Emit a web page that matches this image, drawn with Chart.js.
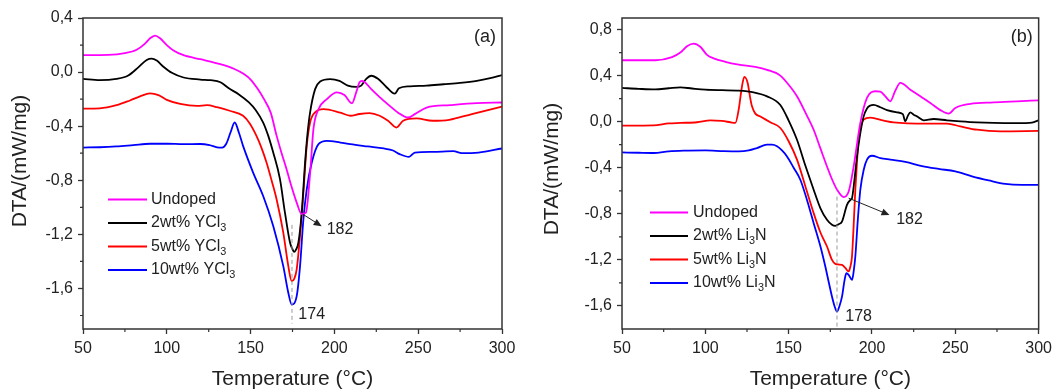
<!DOCTYPE html>
<html>
<head>
<meta charset="utf-8">
<title>DTA curves</title>
<script src="https://cdn.jsdelivr.net/npm/chart.js@4.4.1/dist/chart.umd.min.js"></script>
<style>
  body { margin: 0; background: #fff; }
  #wrap { position: relative; width: 1057px; height: 392px; }
  canvas { position: absolute; top: 0; }
</style>
</head>
<body>
<div id="wrap">
  <canvas id="chartA" width="527" height="392" style="left:0"></canvas>
  <canvas id="chartB" width="530" height="392" style="left:527px"></canvas>
</div>
<script>
// ---- data ----
const xTicks = [50, 100, 150, 200, 250, 300];
const yTicksA = [0.4, 0, -0.4, -0.8, -1.2, -1.6];
const yTicksB = [0.8, 0.4, 0, -0.4, -0.8, -1.2, -1.6];

const labelsA = ['Undoped', '2wt% YCl₃', '5wt% YCl₃', '10wt% YCl₃'];
const labelsB = ['Undoped', '2wt% Li₃N', '5wt% Li₃N', '10wt% Li₃N'];

// panel (a) - YCl3
const tempA_undoped = [50,65,75,82,87,90,93,96,100,104,110,120,130,140,146,150,154,158,162,165.5,168.5,171.5,174.5,177.5,180.5,183,185.5,187.5,190.5,195.5,201.5,206,210.5,213,215,216.5,219,222,227,233,238,244,248,255,269,285,300];
const dtaA_undoped = [0.125,0.127,0.14,0.165,0.21,0.25,0.27,0.25,0.2,0.16,0.125,0.095,0.065,0.025,-0.015,-0.055,-0.12,-0.2,-0.3,-0.47,-0.6,-0.72,-0.85,-0.965,-1.05,-1.04,-0.75,-0.42,-0.275,-0.2,-0.15,-0.17,-0.23,-0.15,-0.075,-0.065,-0.085,-0.126,-0.185,-0.25,-0.3,-0.336,-0.311,-0.262,-0.244,-0.23,-0.225];

const tempA_2wt = [50,60,70,77,83,88,91,94,98,103,110,120,126,132,137,143,149,153,157.5,160.5,163.5,167.5,170.5,173.5,175,176,177,178.5,180.5,182.5,184,185.5,188.5,191.5,197.5,203,208,213,216,219,222,226,231,236,238.5,245,255,265,275,285,293,300];
const dtaA_2wt = [-0.05,-0.06,-0.05,-0.025,0.035,0.09,0.1,0.085,0.04,-0.005,-0.04,-0.055,-0.06,-0.075,-0.12,-0.165,-0.224,-0.28,-0.373,-0.47,-0.595,-0.79,-1.04,-1.26,-1.31,-1.33,-1.315,-1.262,-1.04,-0.67,-0.45,-0.298,-0.126,-0.07,-0.052,-0.065,-0.1,-0.11,-0.1,-0.05,-0.027,-0.05,-0.11,-0.16,-0.12,-0.105,-0.1,-0.09,-0.08,-0.065,-0.045,-0.022];

const tempA_5wt = [50,60,70,78,84,90,95,100,108,118,124,130,137.5,145.5,149.5,153.5,156.5,159.5,162.5,165.5,169.5,172.5,174.5,176,177.5,179.5,181.5,183.5,185.5,188.5,193.5,203.5,209.5,215,221,227,232,237,241,249,258.5,268.5,282,300];
const dtaA_5wt = [-0.27,-0.268,-0.245,-0.21,-0.18,-0.158,-0.17,-0.205,-0.235,-0.25,-0.245,-0.26,-0.286,-0.323,-0.38,-0.472,-0.56,-0.669,-0.8,-0.94,-1.187,-1.435,-1.546,-1.53,-1.459,-1.212,-0.891,-0.546,-0.373,-0.298,-0.274,-0.3,-0.323,-0.31,-0.304,-0.323,-0.36,-0.41,-0.36,-0.343,-0.36,-0.353,-0.31,-0.255];

const tempA_10wt = [50,60,70,80,90,100,110,120,125.5,130,133,135.5,138,140.5,143,145.5,151.5,157.5,163.5,169.5,172.5,174.5,177.5,179.5,181.5,183.5,186.5,190.5,195.5,203.5,209.5,220,229.5,235,239,244.5,248,258.5,271,276,286,300];
const dtaA_10wt = [-0.558,-0.556,-0.55,-0.54,-0.53,-0.53,-0.533,-0.532,-0.54,-0.556,-0.558,-0.53,-0.447,-0.373,-0.447,-0.546,-0.743,-0.916,-1.138,-1.435,-1.632,-1.719,-1.657,-1.435,-1.089,-0.867,-0.669,-0.533,-0.509,-0.521,-0.533,-0.55,-0.565,-0.58,-0.607,-0.627,-0.595,-0.59,-0.585,-0.6,-0.595,-0.565];

// panel (b) - Li3N
const tempB_undoped = [50,70,80,85,89,93,97,101,105,112,120,130,137,145,150,155,160,165,169,173,176,179,183,186,189,193,197,202,205,208,211,214,217,223,229,235,241,246,250,259,273,287,300];
const dtaB_undoped = [0.533,0.533,0.56,0.6,0.655,0.678,0.65,0.58,0.55,0.52,0.496,0.475,0.45,0.4,0.32,0.22,0.08,-0.07,-0.23,-0.389,-0.5,-0.59,-0.655,-0.606,-0.389,-0.011,0.206,0.264,0.26,0.22,0.177,0.27,0.336,0.278,0.22,0.162,0.1,0.07,0.119,0.155,0.168,0.177,0.185];

const tempB_2wt = [50,60,70,78,85,92,100,110,119,129,137,145,150,155,160,165,169,173,176,178,180,182,185,187,188,189.5,191,193,195,197,199,201,205,209,215,218.5,220,221.5,223,225,227,231,237,245,253,263,273,287,296,300];
const dtaB_2wt = [0.293,0.285,0.28,0.29,0.298,0.288,0.278,0.273,0.27,0.255,0.22,0.145,0.01,-0.157,-0.38,-0.591,-0.75,-0.852,-0.895,-0.904,-0.89,-0.867,-0.722,-0.68,-0.664,-0.5,-0.302,-0.1,0.046,0.115,0.14,0.145,0.125,0.1,0.081,0.065,0.003,0.05,0.081,0.06,0.046,0.012,0.023,0.012,0.003,-0.006,-0.011,-0.013,-0.008,0.012];

const tempB_5wt = [50,69,78,85,95,103,110,115,118,120,122,123.4,125.4,127,128,130,133,139,145,150,155,160,165,169,173,176,178,180,182,184,186,187,188,189,190,191,192,195,199,207,213,233,245,253,263,277,300];
const dtaB_5wt = [-0.035,-0.032,-0.015,-0.011,-0.005,0.012,0.006,-0.005,-0.011,0.104,0.307,0.389,0.336,0.2,0.133,0.07,0.045,-0.005,-0.055,-0.17,-0.33,-0.56,-0.794,-0.96,-1.084,-1.2,-1.235,-1.24,-1.243,-1.27,-1.3,-1.26,-1.171,-0.9,-0.591,-0.35,-0.157,0.017,0.035,0.01,-0.006,-0.017,-0.017,-0.041,-0.07,-0.084,-0.08];

const tempB_10wt = [50,60,69,78,87,100,111,120,126,131,137,140,143,146,149,153,157,161,165,169,172,174,176,177.5,179,180.5,182,183.5,184.6,186,188,189,190,191.5,193,195,197,200,205,211,220,230,240,250,260,270,280,290,300];
const dtaB_10wt = [-0.267,-0.27,-0.272,-0.258,-0.252,-0.25,-0.256,-0.258,-0.25,-0.229,-0.2,-0.2,-0.214,-0.25,-0.302,-0.4,-0.504,-0.68,-0.881,-1.08,-1.258,-1.39,-1.519,-1.6,-1.649,-1.6,-1.519,-1.38,-1.316,-1.33,-1.374,-1.3,-1.171,-0.85,-0.591,-0.42,-0.33,-0.296,-0.316,-0.33,-0.35,-0.385,-0.41,-0.432,-0.475,-0.51,-0.54,-0.548,-0.548];

const lineColors = ['#ff00ff', '#000000', '#ff0000', '#0000ff'];
const family = '"Liberation Sans", Arial, sans-serif';

function toPoints(xs, ys) {
  return xs.map((x, i) => ({ x: x, y: ys[i] }));
}

// midpoints between major ticks (plus one step outside if still in range)
function minorTicks(ticks, min, max) {
  const sorted = ticks.slice().sort((a, b) => a - b);
  const half = (sorted[1] - sorted[0]) / 2;
  const out = [];
  for (let v = sorted[0] - half; v < sorted[sorted.length - 1] + half * 1.5; v += half * 2) {
    if (v > min + 1e-6 && v < max - 1e-6) out.push(v);
  }
  return out;
}

function drawLabel(ctx, text, x, y, size) {
  // "₃" is drawn as a lowered small 3
  const parts = text.split('₃');
  let cx = x;
  parts.forEach((p, i) => {
    if (i > 0) {
      ctx.font = (size * 0.68) + 'px ' + family;
      ctx.fillText('3', cx, y + size * 0.33);
      cx += ctx.measureText('3').width;
    }
    ctx.font = size + 'px ' + family;
    ctx.fillText(p, cx, y);
    cx += ctx.measureText(p).width;
  });
}

function extrasFor(cfg) {
  return {
    id: 'extras',
    afterDraw(chart) {
      const { ctx, chartArea: a } = chart;
      const sx = chart.scales.x, sy = chart.scales.y;
      const px = v => sx.getPixelForValue(v);
      const py = v => sy.getPixelForValue(v);
      ctx.save();

      // frame
      ctx.strokeStyle = '#333';
      ctx.lineWidth = 1.5;
      ctx.strokeRect(a.left, a.top, a.right - a.left, a.bottom - a.top);

      // minor ticks
      ctx.lineWidth = 1.2;
      ctx.beginPath();
      minorTicks(xTicks, sx.min, sx.max).forEach(v => {
        ctx.moveTo(px(v), a.bottom); ctx.lineTo(px(v), a.bottom + 3);
      });
      minorTicks(cfg.yTicks, sy.min, sy.max).forEach(v => {
        ctx.moveTo(a.left, py(v)); ctx.lineTo(a.left - 3, py(v));
      });
      ctx.stroke();

      // y title, placed a little above the middle like in the source figure
      ctx.save();
      ctx.translate(cfg.yTitleX, cfg.yTitleY);
      ctx.rotate(-Math.PI / 2);
      ctx.fillStyle = '#222';
      ctx.font = '21px ' + family;
      ctx.textAlign = 'center';
      ctx.textBaseline = 'middle';
      ctx.fillText('DTA/(mW/mg)', 0, 0);
      ctx.restore();

      // dashed guide at the peak
      ctx.strokeStyle = '#9a9a9a';
      ctx.lineWidth = 1;
      ctx.setLineDash([4, 3]);
      ctx.beginPath();
      ctx.moveTo(px(cfg.guideX), py(cfg.guideFrom));
      ctx.lineTo(px(cfg.guideX), py(cfg.guideTo));
      ctx.stroke();
      ctx.setLineDash([]);

      // arrow to the undoped peak label
      const x1 = px(cfg.arrowFrom[0]), y1 = py(cfg.arrowFrom[1]);
      const x2 = px(cfg.arrowTo[0]), y2 = py(cfg.arrowTo[1]);
      const ang = Math.atan2(y2 - y1, x2 - x1);
      ctx.strokeStyle = '#222';
      ctx.fillStyle = '#222';
      ctx.beginPath();
      ctx.moveTo(x1, y1); ctx.lineTo(x2 - 6 * Math.cos(ang), y2 - 6 * Math.sin(ang));
      ctx.stroke();
      ctx.beginPath();
      ctx.moveTo(x2, y2);
      ctx.lineTo(x2 - 8 * Math.cos(ang) + 3.5 * Math.sin(ang), y2 - 8 * Math.sin(ang) - 3.5 * Math.cos(ang));
      ctx.lineTo(x2 - 8 * Math.cos(ang) - 3.5 * Math.sin(ang), y2 - 8 * Math.sin(ang) + 3.5 * Math.cos(ang));
      ctx.closePath();
      ctx.fill();

      // text notes
      ctx.textBaseline = 'middle';
      ctx.textAlign = 'left';
      ctx.font = '16px ' + family;
      ctx.fillText(cfg.guideText, px(cfg.guideTextAt[0]), py(cfg.guideTextAt[1]));
      ctx.fillText(cfg.arrowText, px(cfg.arrowTextAt[0]), py(cfg.arrowTextAt[1]));
      ctx.textAlign = 'right';
      ctx.font = '18px ' + family;
      ctx.fillText(cfg.tag, a.right - 6, a.top + 19);

      // legend
      ctx.textAlign = 'left';
      chart.data.datasets.forEach((ds, i) => {
        const y = cfg.legendTop + i * cfg.legendStep;
        ctx.strokeStyle = ds.borderColor;
        ctx.lineWidth = 1.8;
        ctx.beginPath();
        ctx.moveTo(cfg.legendX[0], y); ctx.lineTo(cfg.legendX[1], y);
        ctx.stroke();
        ctx.fillStyle = '#222';
        drawLabel(ctx, ds.label, cfg.legendX[2], y, 16);
      });
      ctx.restore();
    }
  };
}

function makePanel(id, series, labels, cfg) {
  return new Chart(document.getElementById(id), {
    type: 'line',
    data: {
      datasets: series.map((s, i) => ({
        label: labels[i],
        data: toPoints(s[0], s[1]),
        borderColor: lineColors[i],
        borderWidth: 1.8,
        pointRadius: 0,
        fill: false,
        cubicInterpolationMode: 'monotone'
      }))
    },
    options: {
      responsive: false,
      animation: false,
      devicePixelRatio: 1,
      layout: { padding: { top: 18, right: cfg.rightPad, left: 0, bottom: 0 } },
      scales: {
        x: {
          type: 'linear', min: 50, max: 300,
          afterBuildTicks: s => { s.ticks = xTicks.map(v => ({ value: v })); },
          afterFit: s => { s.height = 63; },
          ticks: { font: { size: 16, family: family }, color: '#222', padding: 5, maxRotation: 0, autoSkip: false },
          grid: { drawOnChartArea: false, tickLength: 5, tickColor: '#333', tickWidth: 1.3 },
          border: { display: false },
          title: { display: true, text: 'Temperature (°C)', color: '#222', font: { size: 21, family: family }, padding: { top: 0, bottom: 0 } }
        },
        y: {
          type: 'linear', min: cfg.yMin, max: cfg.yMax,
          afterBuildTicks: s => { s.ticks = cfg.yTicks.map(v => ({ value: v })); },
          afterFit: s => { s.width = cfg.yWidth; },
          ticks: {
            font: { size: 16, family: family }, color: '#222', padding: 5, autoSkip: false,
            callback: v => v.toFixed(1).replace('.', ',')
          },
          grid: { drawOnChartArea: false, tickLength: 5, tickColor: '#333', tickWidth: 1.3 },
          border: { display: false }
        }
      },
      plugins: { legend: { display: false }, tooltip: { enabled: false } }
    },
    plugins: [extrasFor(cfg)]
  });
}

makePanel('chartA', [
  [tempA_undoped, dtaA_undoped],
  [tempA_2wt, dtaA_2wt],
  [tempA_5wt, dtaA_5wt],
  [tempA_10wt, dtaA_10wt]
], labelsA, {
  yMin: -1.9, yMax: 0.4, yTicks: yTicksA, yWidth: 83, rightPad: 25, yTitleX: 20, yTitleY: 161,
  guideX: 174.7, guideFrom: -1.13, guideTo: -1.86, guideText: '174', guideTextAt: [178.5, -1.795],
  arrowFrom: [181, -1.05], arrowTo: [192.4, -1.14], arrowText: '182', arrowTextAt: [195.4, -1.165],
  tag: '(a)', legendX: [108, 147, 151], legendTop: 199.5, legendStep: 23.5
});

makePanel('chartB', [
  [tempB_undoped, dtaB_undoped],
  [tempB_2wt, dtaB_2wt],
  [tempB_5wt, dtaB_5wt],
  [tempB_10wt, dtaB_10wt]
], labelsB, {
  yMin: -1.8, yMax: 0.9, yTicks: yTicksB, yWidth: 95, rightPad: 18, yTitleX: 25, yTitleY: 169,
  guideX: 179, guideFrom: -0.65, guideTo: -1.8, guideText: '178', guideTextAt: [184, -1.693],
  arrowFrom: [186, -0.664], arrowTo: [210.5, -0.81], arrowText: '182', arrowTextAt: [214.5, -0.852],
  tag: '(b)', legendX: [123, 161, 166], legendTop: 212.5, legendStep: 23.5
});
</script>
</body>
</html>
